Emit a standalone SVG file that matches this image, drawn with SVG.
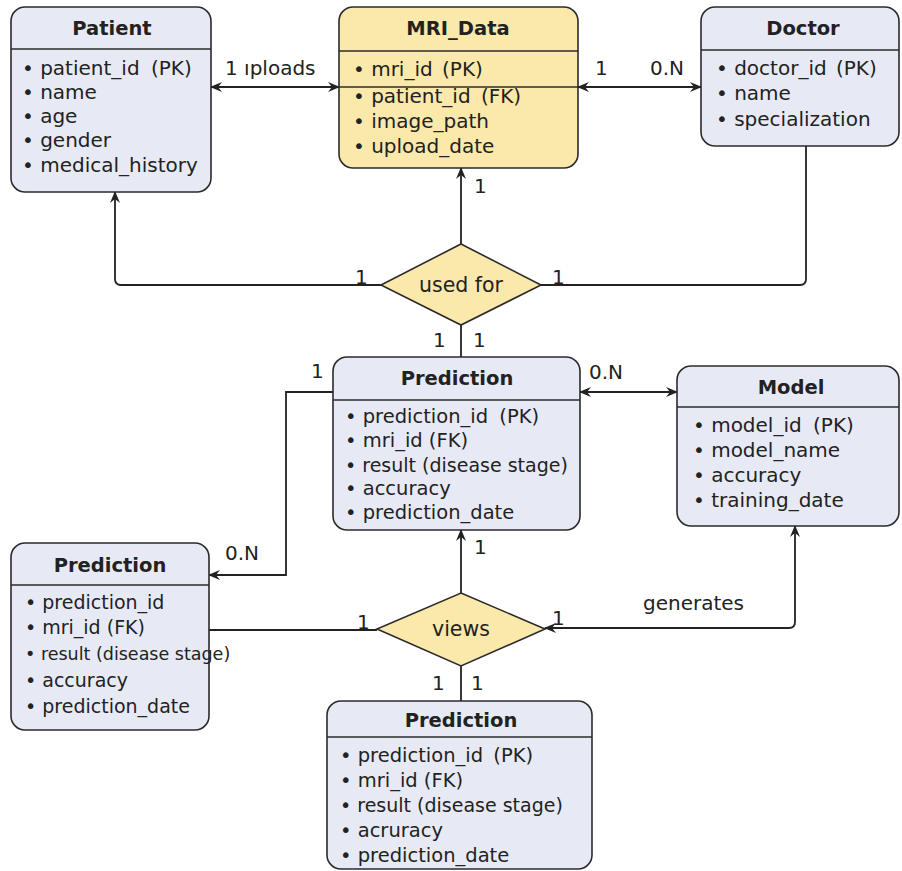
<svg xmlns="http://www.w3.org/2000/svg" width="902" height="871" viewBox="0 0 902 871">
<defs>
<style>
.box{fill:#e7eaf5;stroke:#2b2b2b;stroke-width:1.6}
.ybox{fill:#fbe8ab;stroke:#2b2b2b;stroke-width:1.6}
.sep{stroke:#2b2b2b;stroke-width:1.4}
.title{font-family:"DejaVu Sans",sans-serif;font-weight:bold;font-size:19.5px;fill:#222;text-anchor:middle}
.item{font-family:"DejaVu Sans",sans-serif;font-size:20px;fill:#222}
.pred{font-size:19.5px}
.res{font-size:19px}
.left{font-size:19px}
.small{font-size:17.5px}
.lbl{font-family:"DejaVu Sans",sans-serif;font-size:20px;fill:#222}
.dtext{font-family:"DejaVu Sans",sans-serif;font-size:20.5px;fill:#222;text-anchor:middle}
.conn{fill:none;stroke:#222;stroke-width:1.8}
</style>
<marker id="arr" viewBox="0 0 12 10" refX="11" refY="5" markerWidth="12" markerHeight="10" markerUnits="userSpaceOnUse" orient="auto-start-reverse">
<path d="M0,0 L12,5 L0,10 L4,5 z" fill="#222"/>
</marker>
</defs>
<rect width="902" height="871" fill="#ffffff"/>

<g id="connectors">
<line class="conn" x1="211" y1="87" x2="339" y2="87" marker-start="url(#arr)" marker-end="url(#arr)"/>
<line class="conn" x1="578" y1="87" x2="701" y2="87" marker-start="url(#arr)" marker-end="url(#arr)"/>
<line class="conn" x1="461" y1="244" x2="461" y2="168" marker-end="url(#arr)"/>
<path class="conn" d="M381,285 H121 Q115,285 115,279 V192" marker-end="url(#arr)"/>
<path class="conn" d="M541,285 H800 Q806,285 806,279 V146"/>
<line class="conn" x1="461" y1="325" x2="461" y2="357"/>
<line class="conn" x1="580" y1="392" x2="677" y2="392" marker-start="url(#arr)" marker-end="url(#arr)"/>
<path class="conn" d="M333,392 H286 V575 H209" marker-end="url(#arr)"/>
<line class="conn" x1="461" y1="593" x2="461" y2="530" marker-end="url(#arr)"/>
<line class="conn" x1="209" y1="630" x2="377" y2="630"/>
<path class="conn" d="M545,628 H789 Q795,628 795,622 V526" marker-start="url(#arr)" marker-end="url(#arr)"/>
<line class="conn" x1="461" y1="666" x2="461" y2="701"/>
</g>

<g id="labels">
<text class="lbl" x="225" y="75">1 ıploads</text>
<text class="lbl" x="595" y="75">1</text>
<text class="lbl" x="650" y="75">0.N</text>
<text class="lbl" x="474" y="193">1</text>
<text class="lbl" x="355" y="284">1</text>
<text class="lbl" x="552" y="284">1</text>
<text class="lbl" x="433" y="347">1</text>
<text class="lbl" x="473" y="347">1</text>
<text class="lbl" x="311" y="378">1</text>
<text class="lbl" x="589" y="379">0.N</text>
<text class="lbl" x="225" y="560">0.N</text>
<text class="lbl" x="474" y="554">1</text>
<text class="lbl" x="357" y="629">1</text>
<text class="lbl" x="552" y="625">1</text>
<text class="lbl" x="643" y="610">generates</text>
<text class="lbl" x="432" y="690">1</text>
<text class="lbl" x="471" y="690">1</text>
</g>

<g id="patient">
<rect class="box" x="11" y="7" width="200" height="185" rx="14"/>
<line class="sep" x1="11" y1="49" x2="211" y2="49"/>
<text class="title" x="112" y="35">Patient</text>
<text class="item" x="22" y="75">• patient_id <tspan dx="5">(PK)</tspan></text>
<text class="item" x="22" y="99">• name</text>
<text class="item" x="22" y="123">• age</text>
<text class="item" x="22" y="147">• gender</text>
<text class="item" x="22" y="172">• medical_history</text>
</g>

<g id="mri_data">
<rect class="ybox" x="339" y="7" width="239" height="161" rx="14"/>
<line class="sep" x1="339" y1="51" x2="578" y2="51"/>
<line class="sep" x1="339" y1="87" x2="578" y2="87"/>
<text class="title" x="458" y="35">MRI_Data</text>
<text class="item" x="353" y="76">• mri_id <tspan dx="3">(PK)</tspan></text>
<text class="item" x="353" y="103">• patient_id <tspan dx="4">(FK)</tspan></text>
<text class="item" x="353" y="128">• image_path</text>
<text class="item" x="353" y="153">• upload_date</text>
</g>

<g id="doctor">
<rect class="box" x="701" y="7" width="198" height="139" rx="14"/>
<line class="sep" x1="701" y1="50" x2="899" y2="50"/>
<text class="title" x="803" y="35">Doctor</text>
<text class="item" x="716" y="75">• doctor_id <tspan dx="3">(PK)</tspan></text>
<text class="item" x="716" y="100">• name</text>
<text class="item" x="716" y="126">• specialization</text>
</g>

<g id="used_for">
<polygon points="461,244 541,285 461,325 381,285" fill="#fbe8ab" stroke="#2b2b2b" stroke-width="1.6"/>
<text class="dtext" x="461" y="292">used for</text>
</g>

<g id="prediction_main">
<rect class="box" x="333" y="357" width="247" height="173" rx="14"/>
<line class="sep" x1="333" y1="400" x2="580" y2="400"/>
<text class="title" x="457" y="385">Prediction</text>
<text class="item pred" x="345" y="423">• prediction_id <tspan dx="5">(PK)</tspan></text>
<text class="item pred" x="345" y="447">• mri_id (FK)</text>
<text class="item res" x="345" y="472">• result (disease stage)</text>
<text class="item pred" x="345" y="495">• accuracy</text>
<text class="item pred" x="345" y="519">• prediction_date</text>
</g>

<g id="model">
<rect class="box" x="677" y="366" width="222" height="160" rx="14"/>
<line class="sep" x1="677" y1="407" x2="899" y2="407"/>
<text class="title" x="791" y="394">Model</text>
<text class="item" x="693" y="432">• model_id <tspan dx="5">(PK)</tspan></text>
<text class="item" x="693" y="457">• model_name</text>
<text class="item" x="693" y="482">• accuracy</text>
<text class="item" x="693" y="507">• training_date</text>
</g>

<g id="prediction_left">
<rect class="box" x="11" y="543" width="198" height="187" rx="14"/>
<line class="sep" x1="11" y1="585" x2="209" y2="585"/>
<text class="title" x="110" y="572">Prediction</text>
<text class="item left" x="25" y="609">• prediction_id</text>
<text class="item left" x="25" y="634">• mri_id (FK)</text>
<text class="item small" x="25" y="660">• result (disease stage)</text>
<text class="item left" x="25" y="687">• accuracy</text>
<text class="item left" x="25" y="713">• prediction_date</text>
</g>

<g id="views">
<polygon points="461,593 545,629 461,666 377,629" fill="#fbe8ab" stroke="#2b2b2b" stroke-width="1.6"/>
<text class="dtext" x="461" y="636">views</text>
</g>

<g id="prediction_bottom">
<rect class="box" x="327" y="701" width="265" height="168" rx="14"/>
<line class="sep" x1="327" y1="737" x2="592" y2="737"/>
<text class="title" x="461" y="727">Prediction</text>
<text class="item pred" x="340" y="762">• prediction_id <tspan dx="4">(PK)</tspan></text>
<text class="item pred" x="340" y="787">• mri_id (FK)</text>
<text class="item res" x="340" y="812">• result (disease stage)</text>
<text class="item pred" x="340" y="837">• acruracy</text>
<text class="item pred" x="340" y="862">• prediction_date</text>
</g>
</svg>
